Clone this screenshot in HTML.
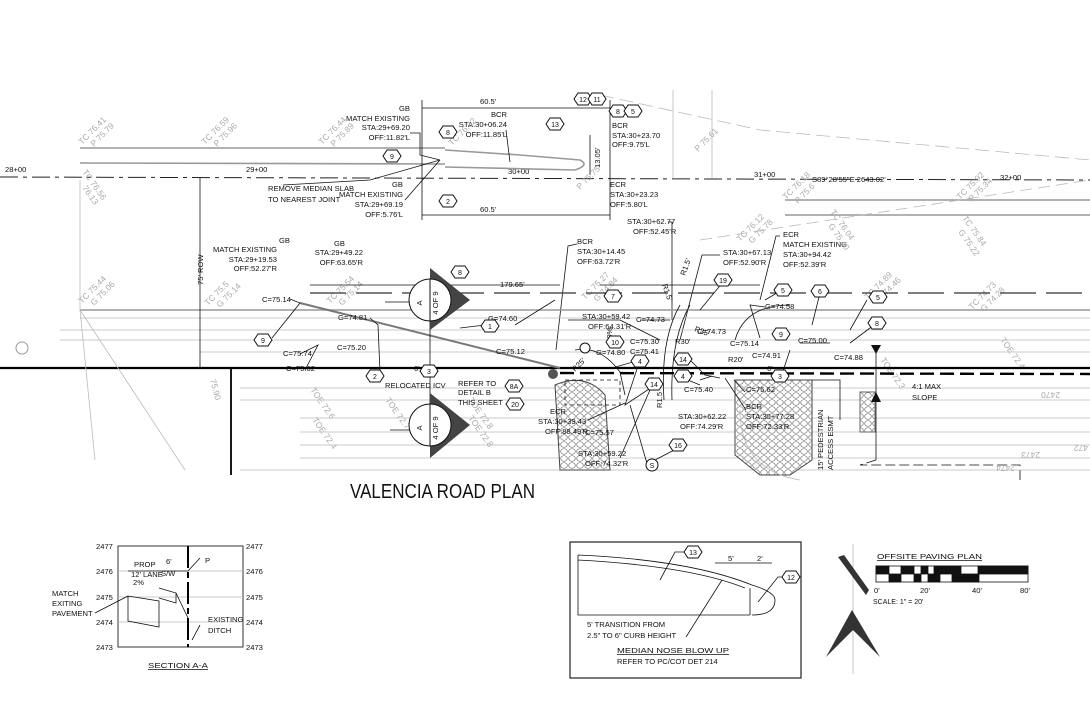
<!DOCTYPE html>
<html><head><meta charset="utf-8"><style>
html,body{margin:0;padding:0;background:#fff;}
svg{display:block;font-family:"Liberation Sans Narrow","Liberation Sans",sans-serif;}
.t{font-size:7.6px;fill:#111;}
.g{font-size:8.5px;fill:#aaa;}
.h{fill:#fff;stroke:#111;stroke-width:1;}
.ht{font-size:7px;fill:#111;text-anchor:middle;}
.ln{stroke:#111;stroke-width:0.8;fill:none;}
.gl{stroke:#bbb;stroke-width:0.8;fill:none;}
.gd{stroke:#999;stroke-width:1.6;fill:none;}
</style></head><body>
<svg width="1090" height="710" viewBox="0 0 1090 710" xmlns="http://www.w3.org/2000/svg">
<defs>
<polygon id="hx" points="-9,0 -5,-6 5,-6 9,0 5,6 -5,6" class="h"/>
<pattern id="cob" width="8" height="7" patternUnits="userSpaceOnUse">
<rect width="8" height="7" fill="#fff"/><ellipse cx="4" cy="3.5" rx="3.3" ry="2.8" fill="none" stroke="#777" stroke-width="0.7"/>
</pattern>
</defs>

<!-- centerline -->
<path d="M0 177 L1090 180" stroke="#222" stroke-width="1" stroke-dasharray="18,5,4,5" fill="none"/>
<text x="5" y="172" class="t">28+00</text>
<text x="246" y="172" class="t">29+00</text>
<text x="508" y="174" class="t">30+00</text>
<text x="754" y="177" class="t">31+00</text>
<text x="1000" y="180" class="t">32+00</text>
<text x="812" y="182" class="t">S89°28'55"E   2643.02'</text>

<!-- upper median -->
<path d="M80 148 L445 148 M80 163 L445 164" class="gd"/>
<path d="M445 150 L520 155 L580 160 Q590 165 575 170 L445 167" class="gd"/>
<path d="M785 200 L1090 200 M785 215 L1090 215" class="gd"/>
<path d="M600 95 L760 130 L1090 160" class="gl" stroke-dasharray="14,6"/>
<path d="M700 240 L1090 180" class="gl" stroke-dasharray="12,6"/>
<!-- dims -->
<path d="M422 108 L610 108 M422 215 L610 215 M422 100 L422 220 M610 100 L610 220" class="ln"/>
<text x="480" y="104" class="t">60.5'</text>
<text x="480" y="212" class="t">60.5'</text>
<path d="M590 135 L590 175" class="ln"/>
<text x="600" y="168" class="t" transform="rotate(-90 600 168)">13.05'</text>
<path d="M673 90 L673 178 M712 90 L712 178" class="gl"/>

<!-- top labels -->
<g class="t" text-anchor="end">
<text x="410" y="111">GB</text><text x="410" y="121">MATCH EXISTING</text><text x="410" y="130">STA:29+69.20</text><text x="410" y="140">OFF:11.82'L</text>
<text x="507" y="117">BCR</text><text x="507" y="127">STA:30+06.24</text><text x="507" y="137">OFF:11.85'L</text>
<text x="403" y="187">GB</text><text x="403" y="197">MATCH EXISTING</text><text x="403" y="207">STA:29+69.19</text><text x="403" y="217">OFF:5.76'L</text>
<text x="290" y="243">GB</text><text x="277" y="252">MATCH EXISTING</text><text x="277" y="262">STA:29+19.53</text><text x="277" y="271">OFF:52.27'R</text>
<text x="345" y="246">GB</text><text x="363" y="255">STA:29+49.22</text><text x="363" y="265">OFF:63.65'R</text>
</g>
<g class="t">
<text x="612" y="128">BCR</text><text x="612" y="138">STA:30+23.70</text><text x="612" y="147">OFF:9.75'L</text>
<text x="610" y="187">ECR</text><text x="610" y="197">STA:30+23.23</text><text x="610" y="207">OFF:5.80'L</text>
<text x="268" y="191">REMOVE MEDIAN SLAB</text><text x="268" y="202">TO NEAREST JOINT</text>
<text x="627" y="224">STA:30+62.77</text><text x="633" y="234">OFF:52.45'R</text>
<text x="577" y="244">BCR</text><text x="577" y="254">STA:30+14.45</text><text x="577" y="264">OFF:63.72'R</text>
<text x="723" y="255">STA:30+67.13</text><text x="723" y="265">OFF:52.90'R</text>
<text x="783" y="237">ECR</text><text x="783" y="247">MATCH EXISTING</text><text x="783" y="257">STA:30+94.42</text><text x="783" y="267">OFF:52.39'R</text>
</g>
<path d="M410 133 L420 133 L420 155 L440 160 M405 200 L440 160 M506 130 L510 162 M283 185 L370 180 L440 160" class="ln"/>
<path d="M668 222 L672 222 L672 320 M577 244 L568 246 L556 350 M720 255 L702 255 L680 340 M780 236 L776 236 L760 300" class="ln"/>

<!-- TC/P gray diagonal labels -->
<g class="g">
<text x="82" y="145" transform="rotate(-45 82 145)">TC 76.41</text><text x="94" y="147" transform="rotate(-45 94 147)">P 75.79</text>
<text x="205" y="145" transform="rotate(-45 205 145)">TC 76.59</text><text x="217" y="147" transform="rotate(-45 217 147)">P 75.96</text>
<text x="322" y="145" transform="rotate(-45 322 145)">TC 76.44</text><text x="334" y="147" transform="rotate(-45 334 147)">P 75.89</text>
<text x="452" y="146" transform="rotate(-45 452 146)">TC 76.32</text>
<text x="580" y="190" transform="rotate(-45 580 190)">P 75.75</text>
<text x="698" y="152" transform="rotate(-45 698 152)">P 75.61</text>
<text x="82" y="172" transform="rotate(55 82 172)">TC 76.56</text>
<text x="82" y="188" transform="rotate(55 82 188)">76.13</text>
<text x="82" y="304" transform="rotate(-45 82 304)">TC 75.44</text>
<text x="94" y="306" transform="rotate(-45 94 306)">G 75.06</text>
<text x="208" y="306" transform="rotate(-45 208 306)">TC 75.5</text>
<text x="220" y="308" transform="rotate(-45 220 308)">G 75.14</text>
<text x="330" y="304" transform="rotate(-45 330 304)">TC 75.54</text>
<text x="342" y="306" transform="rotate(-45 342 306)">G 75.14</text>
<text x="585" y="300" transform="rotate(-45 585 300)">TC 75.27</text>
<text x="597" y="302" transform="rotate(-45 597 302)">G 74.84</text>
<text x="740" y="242" transform="rotate(-45 740 242)">TC 76.12</text>
<text x="752" y="244" transform="rotate(-45 752 244)">G 75.78</text>
<text x="786" y="200" transform="rotate(-45 786 200)">TC 76.18</text>
<text x="798" y="204" transform="rotate(-45 798 204)">P 75.6</text>
<text x="960" y="200" transform="rotate(-45 960 200)">TC 75.92</text>
<text x="972" y="202" transform="rotate(-45 972 202)">P 75.34</text>
<text x="962" y="218" transform="rotate(55 962 218)">TC 75.84</text>
<text x="958" y="232" transform="rotate(55 958 232)">G 75.22</text>
<text x="830" y="212" transform="rotate(55 830 212)">TC 76.04</text>
<text x="828" y="226" transform="rotate(55 828 226)">G 75.40</text>
<text x="868" y="300" transform="rotate(-45 868 300)">TC 74.89</text>
<text x="880" y="302" transform="rotate(-45 880 302)">G 74.46</text>
<text x="972" y="310" transform="rotate(-45 972 310)">TC 74.73</text>
<text x="984" y="312" transform="rotate(-45 984 312)">G 74.28</text>
<text x="1000" y="340" transform="rotate(55 1000 340)">TOE 72.4</text>
<text x="880" y="360" transform="rotate(55 880 360)">TOE 72.3</text>
<text x="310" y="390" transform="rotate(55 310 390)">TOE 72.6</text>
<text x="312" y="420" transform="rotate(55 312 420)">TOE 72.4</text>
<text x="385" y="400" transform="rotate(55 385 400)">TOE 72.7</text>
<text x="468" y="400" transform="rotate(55 468 400)">TOE 72.8</text>
<text x="468" y="418" transform="rotate(55 468 418)">TOE 72.8</text>
<text x="210" y="380" transform="rotate(75 210 380)">75.90</text>
</g>

<!-- road lines lower -->
<path d="M80 310 L1090 310" class="gd"/>
<path d="M80 318 L1090 318 M60 330 L1090 330 M60 340 L1090 340 M200 352 L1090 352" class="gl"/>
<path d="M0 368 L1090 368" stroke="#000" stroke-width="2.2"/>
<path d="M560 373 L1090 374" stroke="#000" stroke-width="2.4" stroke-dasharray="14,6"/>
<path d="M310 293 L1090 293" stroke="#333" stroke-width="1.3" stroke-dasharray="36,10"/>
<path d="M240 388 L1090 388 M240 400 L1090 400 M300 418 L1090 418 M300 432 L1090 432 M300 445 L1090 445 M300 458 L1090 458 M240 470 L1090 470" class="gl"/>
<path d="M200 178 L200 368" class="ln"/>
<text x="203" y="285" class="t" transform="rotate(-90 203 285)">75' ROW</text>
<path d="M231 368 L231 475" stroke="#000" stroke-width="1.8"/>
<path d="M80 310 L80 180 M80 310 L185 470 M80 310 L95 460" class="gl"/>
<path d="M300 303 L560 368" stroke="#777" stroke-width="2"/>
<path d="M310 285 L560 285 M600 285 L760 285" class="ln"/>
<text x="500" y="287" class="t">179.65'</text>

<!-- section cut markers -->
<path d="M390 302 L430 302 L430 430 L390 430 M385 302 L390 302" class="ln"/>
<path d="M430 268 L470 300 L430 330 Z" fill="#444"/>
<circle cx="430" cy="300" r="21" fill="#fff" stroke="#111"/>
<line x1="430" y1="279" x2="430" y2="321" stroke="#111"/>
<text x="422" y="303" class="t" font-size="10" transform="rotate(-90 422 303)" text-anchor="middle">A</text>
<text x="438" y="303" class="t" font-size="8" transform="rotate(-90 438 303)" text-anchor="middle">4 OF 9</text>
<path d="M430 393 L470 425 L430 458 Z" fill="#444"/>
<circle cx="430" cy="425" r="21" fill="#fff" stroke="#111"/>
<line x1="430" y1="404" x2="430" y2="446" stroke="#111"/>
<text x="422" y="428" class="t" font-size="10" transform="rotate(-90 422 428)" text-anchor="middle">A</text>
<text x="438" y="428" class="t" font-size="8" transform="rotate(-90 438 428)" text-anchor="middle">4 OF 9</text>

<!-- cobble areas -->
<path d="M555 385 Q585 372 605 395 L610 470 L560 470 Z" fill="url(#cob)" stroke="#444"/>
<path d="M735 380 L812 380 L812 460 L790 475 L760 475 L735 455 Z" fill="url(#cob)" stroke="#444"/>
<rect x="860" y="392" width="15" height="40" fill="url(#cob)" stroke="#666"/>
<path d="M735 340 Q745 305 790 305" class="ln" stroke-width="1.2"/>
<path d="M690 305 Q670 340 672 400 M680 305 Q660 340 664 400" class="ln" stroke-width="1.2"/>
<path d="M575 350 Q600 345 620 372 L625 395" class="ln"/>
<path d="M565 380 L620 380 L620 405 L565 405 Z" class="ln" stroke-dasharray="4,3"/>
<path d="M740 410 Q740 470 800 480" class="gl" stroke-width="1.4"/>
<path d="M812 380 L840 380 L840 420" class="ln"/>
<path d="M876 345 L876 460" class="ln"/>
<path d="M871 345 L881 345 L876 354 Z M871 402 L881 402 L876 392 Z" fill="#111"/>
<path d="M876 460 L860 465 L1020 465 L1020 480" class="ln" stroke-width="1.5" stroke-dasharray="10,4"/>

<!-- lower labels -->
<g class="t">
<text x="262" y="302">C=75.14</text>
<text x="338" y="320">G=74.81</text>
<text x="488" y="321" >G=74.60</text>
<text x="283" y="356">C=75.74</text>
<text x="337" y="350">C=75.20</text>
<text x="496" y="354">C=75.12</text>
<text x="286" y="371">C=75.62</text>
<text x="414" y="371">6'</text>
<text x="385" y="388">RELOCATED ICV</text>
<text x="458" y="386">REFER TO</text><text x="458" y="395">DETAIL B</text><text x="458" y="405">THIS SHEET</text>
<text x="582" y="319">STA:30+59.42</text><text x="588" y="329">OFF:64.31'R</text>
<text x="636" y="322">C=74.73</text>
<text x="697" y="334">C=74.73</text>
<text x="765" y="309">G=74.58</text>
<text x="596" y="355">G=74.80</text>
<text x="630" y="344">C=75.30</text>
<text x="630" y="354">C=75.41</text>
<text x="730" y="346">C=75.14</text>
<text x="752" y="358">C=74.91</text>
<text x="798" y="343">C=75.00</text>
<text x="834" y="360">C=74.88</text>
<text x="675" y="344">R30'</text>
<text x="694" y="331" transform="rotate(20 694 331)">R35'</text>
<text x="728" y="362">R20'</text>
<text x="684" y="392">C=75.40</text>
<text x="746" y="392">C=75.62</text>
<text x="767" y="371">6'</text>
<text x="550" y="414">ECR</text>
<text x="538" y="424">STA:30+39.43</text><text x="545" y="434">OFF:88.49'R</text>
<text x="585" y="435">C=75.57</text>
<text x="678" y="419">STA:30+62.22</text><text x="680" y="429">OFF:74.29'R</text>
<text x="746" y="409">BCR</text><text x="746" y="419">STA:30+77.28</text><text x="746" y="429">OFF:72.33'R</text>
<text x="578" y="456">STA:30+59.22</text><text x="585" y="466">OFF:74.32'R</text>
<text x="912" y="389">4:1 MAX</text><text x="912" y="400">SLOPE</text>
<text x="823" y="470" transform="rotate(-90 823 470)">15' PEDESTRIAN</text>
<text x="833" y="470" transform="rotate(-90 833 470)">ACCESS ESMT</text>
<text x="612" y="345" transform="rotate(-90 612 345)">2.0%</text>
<text x="662" y="408" transform="rotate(-90 662 408)">R1.5</text>
<text x="662" y="285" transform="rotate(70 662 285)">R1.5'</text>
<text x="685" y="276" transform="rotate(-70 685 276)">R1.5'</text>
<text x="575" y="372" transform="rotate(-45 575 372)">R25'</text>
</g>
<g class="g" font-size="8"><text x="1060" y="392" transform="rotate(180 1060 392)">2470</text><text x="1088" y="445" transform="rotate(180 1088 445)">472</text><text x="1040" y="452" transform="rotate(180 1040 452)">2473</text><text x="1015" y="465" transform="rotate(180 1015 465)">2474</text></g>

<!-- leaders lower -->
<path d="M290 299 L300 303 L272 338 M370 318 L378 325 L380 372 M485 325 L460 328 M515 325 L555 300 M300 354 L318 345 L305 370 M568 320 L620 320 L660 340 M640 320 L670 320 M765 307 L750 305 L760 338 M830 343 L800 343 M790 350 L780 380 L788 375 M612 368 L640 360 L625 405 L655 385 M690 360 L705 375 L720 378 M683 378 L700 385 M700 380 L712 376 M588 420 L625 403 M620 458 L650 390 M648 467 L630 405 M680 447 L655 460 M745 392 L734 380 M746 410 L725 378 M867 300 L850 330 M878 322 L850 343 M820 293 L812 325 M782 290 L765 300 M723 282 L700 310" class="ln"/>

<!-- hexagon tags -->
<g>
<use href="#hx" x="448" y="132"/><text x="448" y="135" class="ht">8</text>
<use href="#hx" x="392" y="156"/><text x="392" y="159" class="ht">9</text>
<use href="#hx" x="448" y="201"/><text x="448" y="204" class="ht">2</text>
<use href="#hx" x="555" y="124"/><text x="555" y="127" class="ht">13</text>
<use href="#hx" x="583" y="99"/><text x="583" y="102" class="ht">12</text>
<use href="#hx" x="597" y="99"/><text x="597" y="102" class="ht">11</text>
<use href="#hx" x="618" y="111"/><text x="618" y="114" class="ht">8</text>
<use href="#hx" x="633" y="111"/><text x="633" y="114" class="ht">5</text>
<use href="#hx" x="460" y="272"/><text x="460" y="275" class="ht">8</text>
<use href="#hx" x="263" y="340"/><text x="263" y="343" class="ht">9</text>
<use href="#hx" x="490" y="326"/><text x="490" y="329" class="ht">1</text>
<use href="#hx" x="375" y="376"/><text x="375" y="379" class="ht">2</text>
<use href="#hx" x="429" y="371"/><text x="429" y="374" class="ht">3</text>
<use href="#hx" x="514" y="386"/><text x="514" y="389" class="ht">8A</text>
<use href="#hx" x="515" y="404"/><text x="515" y="407" class="ht">20</text>
<use href="#hx" x="723" y="280"/><text x="723" y="283" class="ht">19</text>
<use href="#hx" x="613" y="296"/><text x="613" y="299" class="ht">7</text>
<use href="#hx" x="783" y="290"/><text x="783" y="293" class="ht">5</text>
<use href="#hx" x="820" y="291"/><text x="820" y="294" class="ht">6</text>
<use href="#hx" x="878" y="297"/><text x="878" y="300" class="ht">5</text>
<use href="#hx" x="877" y="323"/><text x="877" y="326" class="ht">8</text>
<use href="#hx" x="781" y="334"/><text x="781" y="337" class="ht">9</text>
<use href="#hx" x="615" y="342"/><text x="615" y="345" class="ht">10</text>
<use href="#hx" x="640" y="361"/><text x="640" y="364" class="ht">4</text>
<use href="#hx" x="683" y="359"/><text x="683" y="362" class="ht">14</text>
<use href="#hx" x="683" y="376"/><text x="683" y="379" class="ht">4</text>
<use href="#hx" x="780" y="376"/><text x="780" y="379" class="ht">3</text>
<use href="#hx" x="654" y="384"/><text x="654" y="387" class="ht">14</text>
<use href="#hx" x="678" y="445"/><text x="678" y="448" class="ht">16</text>
</g>
<circle cx="652" cy="465" r="6" fill="#fff" stroke="#111"/><text x="652" y="468" class="ht">S</text>
<circle cx="585" cy="348" r="5" fill="#fff" stroke="#111"/>
<circle cx="22" cy="348" r="6" fill="none" stroke="#999"/>
<circle cx="553" cy="374" r="5" fill="#555"/>

<text x="350" y="498" font-size="20" fill="#111" textLength="185" lengthAdjust="spacingAndGlyphs">VALENCIA ROAD PLAN</text>

<!-- Section A-A -->
<g>
<rect x="118" y="546" width="125" height="101" fill="none" stroke="#333"/>
<path d="M118 571 L243 571 M118 597 L243 597 M118 622 L243 622" class="gl"/>
<g class="t" font-size="7.5"><text x="96" y="549">2477</text><text x="96" y="574">2476</text><text x="96" y="600">2475</text><text x="96" y="625">2474</text><text x="96" y="650">2473</text>
<text x="246" y="549">2477</text><text x="246" y="574">2476</text><text x="246" y="600">2475</text><text x="246" y="625">2474</text><text x="246" y="650">2473</text>
<text x="134" y="567">PROP</text><text x="131" y="577">12' LANE</text><text x="133" y="585">2%</text><text x="166" y="564">6'</text><text x="161" y="576">S/W</text>
<text x="52" y="596">MATCH</text><text x="52" y="606">EXITING</text><text x="52" y="616">PAVEMENT</text>
<text x="208" y="622">EXISTING</text><text x="208" y="633">DITCH</text><text x="205" y="563">P</text></g>
<path d="M188 546 L188 647" stroke="#000" stroke-width="2" stroke-dasharray="22,4,6,4"/>
<path d="M128 596 L159 601 L159 627 L128 621 Z M159 588 L176 593 L176 603 L159 598 M176 593 L188 618 M128 571 L188 571" class="ln"/>
<path d="M95 613 L128 596 M200 625 L192 640 M200 558 L188 571" class="ln"/>
<text x="148" y="668" class="t" font-size="11" textLength="60" lengthAdjust="spacingAndGlyphs" text-decoration="underline">SECTION A-A</text>
</g>

<!-- Median nose -->
<g>
<rect x="570" y="542" width="231" height="136" fill="none" stroke="#222" stroke-width="1.2"/>
<path d="M578 555 Q690 560 752 585 Q775 592 775 600 Q775 615 752 615 M578 555 L578 615 L750 615 M578 560 Q690 566 745 588 M750 588 L750 615" class="ln" stroke="#444"/>
<path d="M715 563 L752 563 M752 563 L772 563" class="ln"/>
<g class="t" font-size="8"><text x="728" y="561">5'</text><text x="757" y="561">2'</text>
<text x="587" y="627">5' TRANSITION FROM</text><text x="587" y="638">2.5" TO 6" CURB HEIGHT</text>
<text x="617" y="664">REFER TO PC/COT DET 214</text></g>
<text x="617" y="653" class="t" font-size="11" textLength="112" lengthAdjust="spacingAndGlyphs" text-decoration="underline">MEDIAN NOSE BLOW UP</text>
<path d="M660 580 L675 552 L685 552 M686 637 L722 580 M758 602 L778 577 L785 577" class="ln"/>
<use href="#hx" x="693" y="552"/><text x="693" y="555" class="ht">13</text>
<use href="#hx" x="791" y="577"/><text x="791" y="580" class="ht">12</text>
</g>

<!-- North arrow + scale -->
<path d="M853 544 L853 674" class="gl"/>
<path d="M838 557 L844 555 L869 590 L866 595 Z" fill="#333"/>
<path d="M852 610 L880 657 L853 630 L826 657 Z" fill="#333"/>
<text x="877" y="559" class="t" font-size="11" textLength="105" lengthAdjust="spacingAndGlyphs" text-decoration="underline">OFFSITE PAVING PLAN</text>
<g stroke="#111" stroke-width="0.8">
<rect x="876" y="566" width="152" height="16" fill="#fff"/>
<rect x="876" y="566" width="13" height="8" fill="#111"/><rect x="889" y="574" width="12" height="8" fill="#111"/>
<rect x="901" y="566" width="13" height="8" fill="#111"/><rect x="914" y="574" width="7" height="8" fill="#111"/>
<rect x="921" y="566" width="7" height="8" fill="#111"/><rect x="928" y="574" width="12" height="8" fill="#111"/>
<rect x="934" y="566" width="27" height="8" fill="#111"/><rect x="952" y="574" width="27" height="8" fill="#111"/>
<rect x="978" y="566" width="50" height="8" fill="#111"/>
</g>
<g class="t" font-size="8"><text x="874" y="593">0'</text><text x="920" y="593">20'</text><text x="972" y="593">40'</text><text x="1020" y="593">80'</text>
<text x="873" y="604" font-size="7">SCALE:  1"  =  20'</text></g>
</svg>
</body></html>
